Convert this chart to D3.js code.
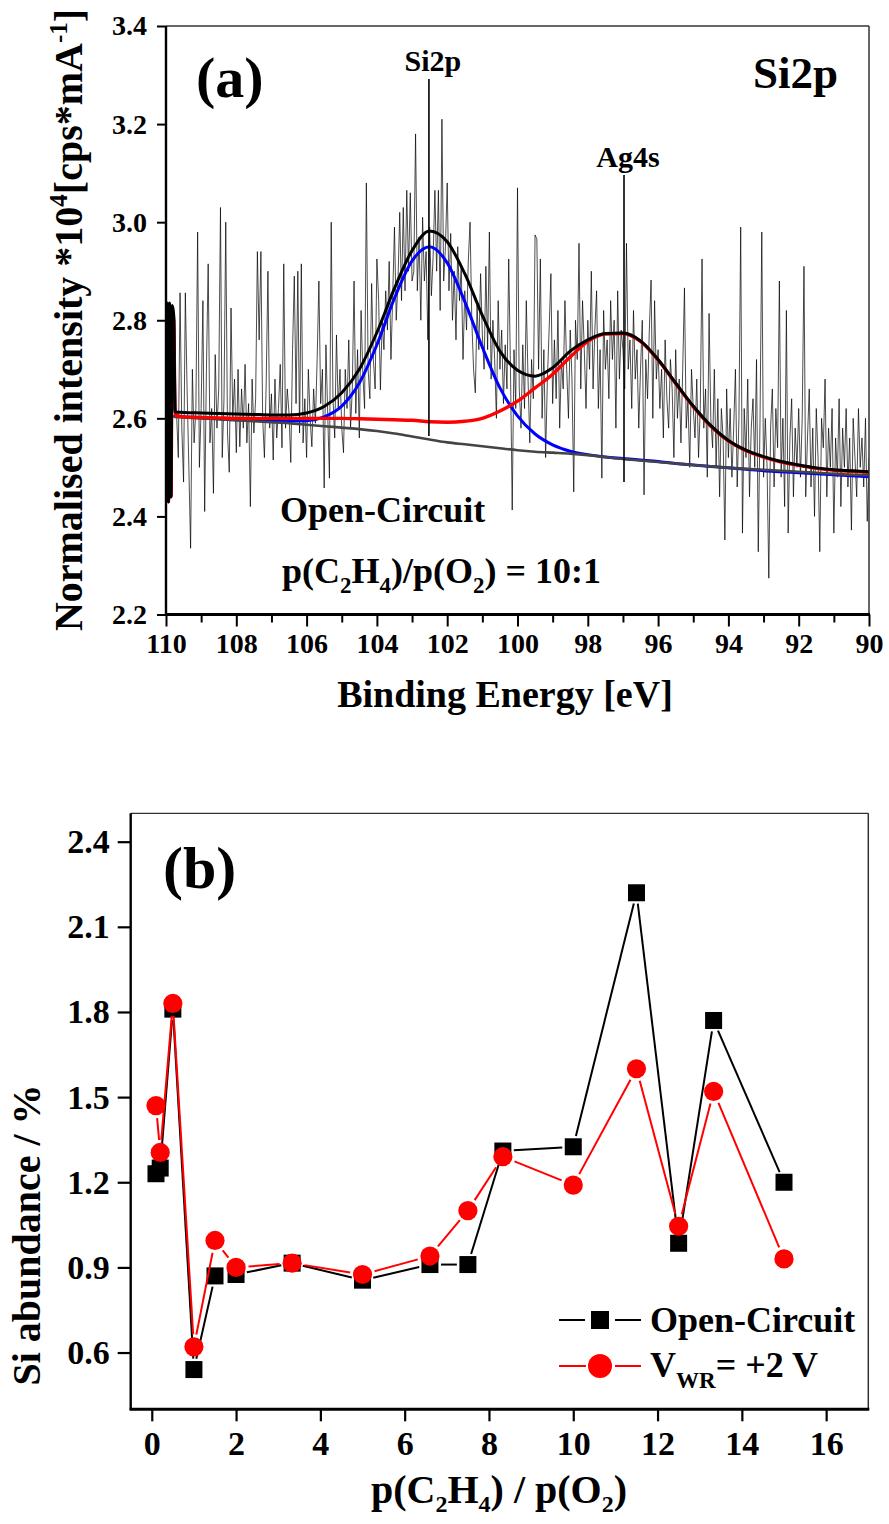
<!DOCTYPE html>
<html>
<head>
<meta charset="utf-8">
<script src="https://cdn.jsdelivr.net/npm/d3@7"></script>
<style>
  html, body { margin: 0; padding: 0; background: #fff; }
  svg { display: block; }
  text { font-family: "Liberation Serif", "Times New Roman", serif; font-weight: bold; fill: #000; }
</style>
</head>
<body>
<svg id="chart" width="889" height="1524"></svg>
<script>
// ---------------- Panel (a): Si2p XPS spectrum ----------------
// measured counts, evenly stepped in binding energy from 109.70 eV down to 90.00 eV
const rawStartBE = 109.70;
const rawStepBE = 0.05;
const rawIntensity = [
  2.61,2.52,2.856,2.58,2.47,2.856,2.66,2.50,2.335,2.70,2.55,2.62,2.98,2.50,2.62,
  2.84,2.41,2.70,2.915,2.55,2.62,2.447,2.73,2.58,2.66,3.03,2.52,2.64,3.00,2.57,2.49,2.825,2.60,2.68,2.53,
  2.70,2.542,2.66,2.58,2.71,2.55,2.63,2.42,2.68,2.57,2.64,2.94,2.76,2.94,2.60,2.52,2.67,2.90,2.58,2.65,
  2.515,2.68,2.56,2.62,2.71,2.54,2.915,2.58,2.66,2.61,2.51,2.74,2.89,2.63,2.90,2.57,2.915,2.55,2.64,2.52,
  2.70,2.60,2.542,2.66,2.59,2.72,2.88,2.63,2.70,2.458,2.75,2.61,2.478,3.00,2.64,2.56,2.77,2.62,2.70,2.58,
  2.53,2.70,2.62,2.76,2.58,2.66,2.88,2.61,2.74,2.56,2.82,2.69,2.62,3.08,2.70,2.64,2.875,2.72,2.66,2.925,
  2.84,2.658,2.80,2.74,2.86,2.78,2.92,2.72,2.85,2.99,2.80,2.88,3.02,2.84,3.03,2.86,3.065,2.90,3.06,2.88,
  2.90,3.18,2.86,2.97,2.80,3.01,2.88,2.94,2.76,2.99,2.85,2.93,3.065,2.90,3.065,2.82,3.21,2.88,2.95,3.08,
  2.86,2.977,2.80,2.90,2.76,2.95,2.84,2.91,2.72,2.86,2.78,2.92,3.00,2.80,2.70,2.652,2.83,2.74,2.895,2.77,
  2.70,2.91,2.74,2.98,2.68,2.80,2.72,2.60,2.84,2.70,2.78,2.63,2.75,2.66,2.925,2.70,2.413,2.74,2.62,3.07,
  2.66,2.58,2.75,2.62,2.84,2.68,2.55,2.72,2.64,2.974,2.966,2.70,2.925,2.60,2.74,2.52,2.68,2.78,2.895,2.63,
  2.76,2.64,2.82,2.58,2.72,2.66,2.84,2.70,2.60,2.78,2.68,2.45,2.80,2.72,2.957,2.66,2.84,2.74,2.62,2.80,
  2.70,2.90,2.66,2.78,2.86,2.62,2.74,2.478,2.82,2.70,2.76,2.64,2.84,2.72,2.80,2.58,2.86,2.68,2.78,2.74,
  2.66,2.957,2.70,2.76,2.62,2.82,2.68,2.74,2.58,2.70,2.80,2.444,2.72,2.64,2.78,2.882,2.60,2.84,2.68,2.74,
  2.62,2.70,2.56,2.76,2.64,2.58,2.72,2.66,2.52,2.74,2.60,2.68,2.55,2.70,2.866,2.58,2.64,2.50,2.70,2.62,
  2.56,2.68,2.52,2.62,2.925,2.58,2.66,2.48,2.814,2.60,2.54,2.70,2.50,2.64,2.44,2.62,2.56,2.352,2.66,2.52,
  2.62,2.48,2.58,2.70,2.46,2.60,2.99,2.366,2.62,2.52,2.68,2.44,2.58,2.64,2.50,2.72,2.328,2.60,2.98,2.48,
  2.60,2.50,2.274,2.58,2.66,2.46,2.62,2.54,2.88,2.48,2.60,2.42,2.82,2.366,2.56,2.64,2.44,2.58,2.50,2.62,
  2.48,2.60,2.91,2.44,2.56,2.66,2.46,2.58,2.40,2.62,2.52,2.328,2.60,2.54,2.68,2.44,2.58,2.50,2.62,2.366,
  2.56,2.48,2.64,2.42,2.58,2.50,2.62,2.46,2.56,2.372,2.60,2.52,2.44,2.62,2.50,2.56,2.46,2.60,2.39,2.52
];

// fitted curves (binding energy grid and intensities)
const fitBE = [
  110.00,109.97,109.93,109.90,109.86,109.82,109.78,109.74,
  109.5,109,108.5,108,107.5,107,106.5,106,105.5,105,104.5,104,103.5,103,102.5,102,
  101.5,101,100.5,100,99.5,99,98.5,98,97.5,97,96.5,96,95.5,95,94.5,94,
  93.5,93,92.5,92,91.5,91,90.5,90
];
const fitEnvelope = [
  2.60,2.835,2.43,2.835,2.44,2.83,2.81,2.613,
  2.612,2.611,2.610,2.609,2.608,2.607,2.607,2.611,2.624,2.652,2.700,2.775,2.865,2.942,2.982,2.960,
  2.895,2.810,2.737,2.698,2.686,2.703,2.737,2.760,2.773,2.774,2.758,2.720,2.672,2.625,2.585,2.555,
  2.535,2.522,2.512,2.505,2.499,2.495,2.493,2.491
];
const fitSi2p = [
  2.60,2.83,2.43,2.83,2.44,2.82,2.80,2.605,
  2.603,2.601,2.599,2.597,2.596,2.595,2.594,2.595,2.603,2.625,2.672,2.750,2.845,2.921,2.950,2.917,
  2.838,2.745,2.662,2.605,2.568,2.546,2.533,2.526,2.521,2.518,2.515,2.512,2.508,2.505,2.502,2.499,
  2.496,2.493,2.491,2.489,2.487,2.485,2.483,2.481
];
const fitAg4s = [
  2.60,2.83,2.43,2.83,2.44,2.82,2.80,2.607,
  2.603,2.602,2.601,2.600,2.600,2.600,2.600,2.600,2.600,2.600,2.599,2.598,2.597,2.596,2.593,2.592,
  2.594,2.600,2.615,2.635,2.662,2.690,2.725,2.757,2.772,2.773,2.757,2.719,2.671,2.624,2.584,2.554,
  2.534,2.521,2.511,2.504,2.498,2.494,2.492,2.490
];
const fitBackground = [
  2.604,2.604,2.604,2.604,2.604,2.604,2.604,2.603,
  2.602,2.600,2.598,2.596,2.594,2.592,2.590,2.587,2.584,2.581,2.578,2.574,2.569,2.563,2.557,2.551,
  2.547,2.543,2.539,2.535,2.532,2.530,2.528,2.525,2.521,2.517,2.514,2.511,2.508,2.505,2.502,2.499,
  2.497,2.495,2.493,2.491,2.489,2.487,2.485,2.484
];

// peak position markers
const peakLabels = ["Si2p", "Ag4s"];
const peakBE = [102.52, 96.97];
const peakTop = [3.292, 3.096];
const peakBottom = [2.564, 2.47];

const aYTicks = [2.2, 2.4, 2.6, 2.8, 3.0, 3.2, 3.4];
const aXTicks = [110, 108, 106, 104, 102, 100, 98, 96, 94, 92, 90];
const aXMinor = [109, 107, 105, 103, 101, 99, 97, 95, 93, 91];

// ---------------- Panel (b): Si abundance vs gas ratio ----------------
const gasRatio      = [0.1, 0.2, 0.5, 1, 1.5, 2, 3.33, 5, 6.6, 7.5, 8.33, 10, 11.5, 12.5, 13.33, 15];
const siOpenCircuit = [1.23, 1.25, 1.81, 0.54, 0.87, 0.875, 0.915, 0.855, 0.91, 0.91, 1.31, 1.325, 2.22, 0.985, 1.77, 1.20];
const siPolarised   = [1.47, 1.305, 1.83, 0.62, 0.995, 0.90, 0.915, 0.875, 0.94, 1.10, 1.29, 1.19, 1.60, 1.045, 1.52, 0.93];

const bYTicks = [0.6, 0.9, 1.2, 1.5, 1.8, 2.1, 2.4];
const bXTicks = [0, 2, 4, 6, 8, 10, 12, 14, 16];

// ---------------- drawing ----------------
const FONT = '"Liberation Serif", "Times New Roman", serif';
const svg = d3.select("#chart");

function styleAxis(g, size, tickWidth) {
  g.attr("font-family", FONT).attr("font-size", size).attr("font-weight", "bold");
  g.select(".domain").remove();
  g.selectAll(".tick line").attr("stroke", "#000").attr("stroke-width", tickWidth);
  g.selectAll(".tick text").attr("fill", "#000");
}

function frame(g, x0, x1, y0, y1) {
  // thin top / right border, heavier left / bottom axes
  g.append("line").attr("x1", x0).attr("x2", x1).attr("y1", y0).attr("y2", y0)
    .attr("stroke", "#333").attr("stroke-width", 1.3);
  g.append("line").attr("x1", x1).attr("x2", x1).attr("y1", y0).attr("y2", y1)
    .attr("stroke", "#333").attr("stroke-width", 1.5);
  g.append("line").attr("x1", x0).attr("x2", x0).attr("y1", y0).attr("y2", y1 + 1)
    .attr("stroke", "#000").attr("stroke-width", 2.4);
  g.append("line").attr("x1", x0 - 1).attr("x2", x1 + 1).attr("y1", y1).attr("y2", y1)
    .attr("stroke", "#000").attr("stroke-width", 3);
}

// ----- panel (a) -----
const ax = d3.scaleLinear().domain([110, 90]).range([166, 869]);
const ay = d3.scaleLinear().domain([2.2, 3.4]).range([614.5, 26]);
const gA = svg.append("g");

gA.append("clipPath").attr("id", "clipA").append("rect")
  .attr("x", 166).attr("y", 26).attr("width", 703).attr("height", 588.5);
const plotA = gA.append("g").attr("clip-path", "url(#clipA)");

const rawLine = d3.line()
  .x((d, i) => ax(rawStartBE - i * rawStepBE))
  .y(d => ay(d));
plotA.append("path").datum(rawIntensity).attr("d", rawLine)
  .attr("fill", "none").attr("stroke", "#000").attr("stroke-width", 0.7)
  .attr("stroke-linejoin", "miter");

const fitLine = d3.line().curve(d3.curveMonotoneX)
  .x((d, i) => ax(fitBE[i]))
  .y(d => ay(d));
const fitStyles = [
  [fitSi2p, "#0000ff", 3],
  [fitBackground, "#444444", 2.6],
  [fitAg4s, "#ff0000", 3.4],
  [fitEnvelope, "#000000", 3]
];
fitStyles.forEach(([vals, color, w]) => {
  plotA.append("path").datum(vals).attr("d", fitLine)
    .attr("fill", "none").attr("stroke", color).attr("stroke-width", w)
    .attr("stroke-linejoin", "round");
});

peakLabels.forEach((lab, i) => {
  gA.append("line")
    .attr("x1", ax(peakBE[i])).attr("x2", ax(peakBE[i]))
    .attr("y1", ay(peakTop[i])).attr("y2", ay(peakBottom[i]))
    .attr("stroke", "#000").attr("stroke-width", 1.6);
  gA.append("text")
    .attr("x", ax(peakBE[i]) + 4).attr("y", ay(peakTop[i]) - 8)
    .attr("text-anchor", "middle").attr("font-size", 30)
    .text(lab);
});

frame(gA, 166, 869, 26, 614.5);

gA.append("g").attr("transform", "translate(166,0)")
  .call(d3.axisLeft(ay).tickValues(aYTicks).tickSize(9).tickPadding(10).tickFormat(d3.format(".1f")))
  .call(styleAxis, 28, 2);
gA.append("g").attr("transform", "translate(0,614.5)")
  .call(d3.axisBottom(ax).tickValues(aXTicks).tickSize(12).tickPadding(7).tickFormat(d3.format("d")))
  .call(styleAxis, 28, 2);
gA.append("g").attr("transform", "translate(0,614.5)")
  .call(d3.axisBottom(ax).tickValues(aXMinor).tickSize(8).tickFormat(""))
  .call(styleAxis, 28, 2);

gA.append("text").attr("x", 196).attr("y", 97).attr("font-size", 58).text("(a)");
gA.append("text").attr("x", 838).attr("y", 88).attr("font-size", 45)
  .attr("text-anchor", "end").text("Si2p");
gA.append("text").attr("x", 280).attr("y", 522).attr("font-size", 36).text("Open-Circuit");

const ratioA = gA.append("text").attr("x", 282).attr("y", 583).attr("font-size", 36);
ratioA.append("tspan").text("p(C");
ratioA.append("tspan").attr("font-size", 23).attr("dy", 10).text("2");
ratioA.append("tspan").attr("dy", -10).text("H");
ratioA.append("tspan").attr("font-size", 23).attr("dy", 10).text("4");
ratioA.append("tspan").attr("dy", -10).text(")/p(O");
ratioA.append("tspan").attr("font-size", 23).attr("dy", 10).text("2");
ratioA.append("tspan").attr("dy", -10).text(") = 10:1");

gA.append("text").attr("x", 505).attr("y", 707).attr("font-size", 38)
  .attr("text-anchor", "middle").text("Binding Energy [eV]");

const yTitleA = gA.append("text").attr("transform", "translate(82,320) rotate(-90)")
  .attr("text-anchor", "middle").attr("font-size", 40);
yTitleA.append("tspan").text("Normalised intensity *10");
yTitleA.append("tspan").attr("font-size", 25).attr("dy", -15).text("4");
yTitleA.append("tspan").attr("dy", 15).text("[cps*mA");
yTitleA.append("tspan").attr("font-size", 25).attr("dy", -15).text("-1");
yTitleA.append("tspan").attr("dy", 15).text("]");

// ----- panel (b) -----
const bx = d3.scaleLinear().domain([-0.5, 17]).range([130.7, 868.3]);
const by = d3.scaleLinear().domain([0.4, 2.5]).range([1409.3, 813.3]);
const gB = svg.append("g");

function gappedSegments(pts, gap) {
  const segs = [];
  for (let i = 0; i < pts.length - 1; i++) {
    const [x1, y1] = pts[i], [x2, y2] = pts[i + 1];
    const dx = x2 - x1, dy = y2 - y1, L = Math.hypot(dx, dy);
    if (L <= 2 * gap) continue;
    const ux = dx / L, uy = dy / L;
    segs.push([x1 + ux * gap, y1 + uy * gap, x2 - ux * gap, y2 - uy * gap]);
  }
  return segs;
}

const series = [
  { vals: siOpenCircuit, color: "#000", marker: "square", gap: 11 },
  { vals: siPolarised, color: "#ff0000", marker: "circle", gap: 12.5 }
];
series.forEach(s => {
  const pts = gasRatio.map((r, i) => [bx(r), by(s.vals[i])]);
  gB.append("g").selectAll("line").data(gappedSegments(pts, s.gap)).join("line")
    .attr("x1", d => d[0]).attr("y1", d => d[1]).attr("x2", d => d[2]).attr("y2", d => d[3])
    .attr("stroke", s.color).attr("stroke-width", 2);
  const mg = gB.append("g");
  if (s.marker === "square") {
    mg.selectAll("rect").data(pts).join("rect")
      .attr("x", d => d[0] - 8.5).attr("y", d => d[1] - 8.5)
      .attr("width", 17).attr("height", 17).attr("fill", s.color);
  } else {
    mg.selectAll("circle").data(pts).join("circle")
      .attr("cx", d => d[0]).attr("cy", d => d[1]).attr("r", 9.6).attr("fill", s.color);
  }
});

frame(gB, 130.7, 868.3, 813.3, 1409.3);

gB.append("g").attr("transform", "translate(130.7,0)")
  .call(d3.axisLeft(by).tickValues(bYTicks).tickSize(13).tickPadding(8).tickFormat(d3.format(".1f")))
  .call(styleAxis, 34, 2.2);
gB.append("g").attr("transform", "translate(0,1409.3)")
  .call(d3.axisBottom(bx).tickValues(bXTicks).tickSize(12).tickPadding(10).tickFormat(d3.format("d")))
  .call(styleAxis, 34, 2.2);

gB.append("text").attr("x", 163).attr("y", 888).attr("font-size", 60).text("(b)");

// legend
const legend = gB.append("g");
legend.append("line").attr("x1", 559).attr("x2", 585).attr("y1", 1320).attr("y2", 1320)
  .attr("stroke", "#000").attr("stroke-width", 2);
legend.append("line").attr("x1", 615).attr("x2", 641).attr("y1", 1320).attr("y2", 1320)
  .attr("stroke", "#000").attr("stroke-width", 2);
legend.append("rect").attr("x", 591).attr("y", 1311).attr("width", 18).attr("height", 18).attr("fill", "#000");
legend.append("text").attr("x", 650).attr("y", 1332).attr("font-size", 36).text("Open-Circuit");

legend.append("line").attr("x1", 559).attr("x2", 586).attr("y1", 1366).attr("y2", 1366)
  .attr("stroke", "#ff0000").attr("stroke-width", 2);
legend.append("line").attr("x1", 615).attr("x2", 641).attr("y1", 1366).attr("y2", 1366)
  .attr("stroke", "#ff0000").attr("stroke-width", 2);
legend.append("circle").attr("cx", 600).attr("cy", 1366).attr("r", 12).attr("fill", "#ff0000");
const vLab = legend.append("text").attr("x", 650).attr("y", 1377).attr("font-size", 36);
vLab.append("tspan").text("V");
vLab.append("tspan").attr("font-size", 23).attr("dy", 11).text("WR");
vLab.append("tspan").attr("dy", -11).text("= +2 V");

const xTitleB = gB.append("text").attr("x", 499).attr("y", 1503)
  .attr("text-anchor", "middle").attr("font-size", 40);
xTitleB.append("tspan").text("p(C");
xTitleB.append("tspan").attr("font-size", 24).attr("dy", 9).text("2");
xTitleB.append("tspan").attr("dy", -9).text("H");
xTitleB.append("tspan").attr("font-size", 24).attr("dy", 9).text("4");
xTitleB.append("tspan").attr("dy", -9).text(") / p(O");
xTitleB.append("tspan").attr("font-size", 24).attr("dy", 9).text("2");
xTitleB.append("tspan").attr("dy", -9).text(")");

gB.append("text").attr("transform", "translate(40,1235) rotate(-90)")
  .attr("text-anchor", "middle").attr("font-size", 40).text("Si abundance / %");
</script>
</body>
</html>
